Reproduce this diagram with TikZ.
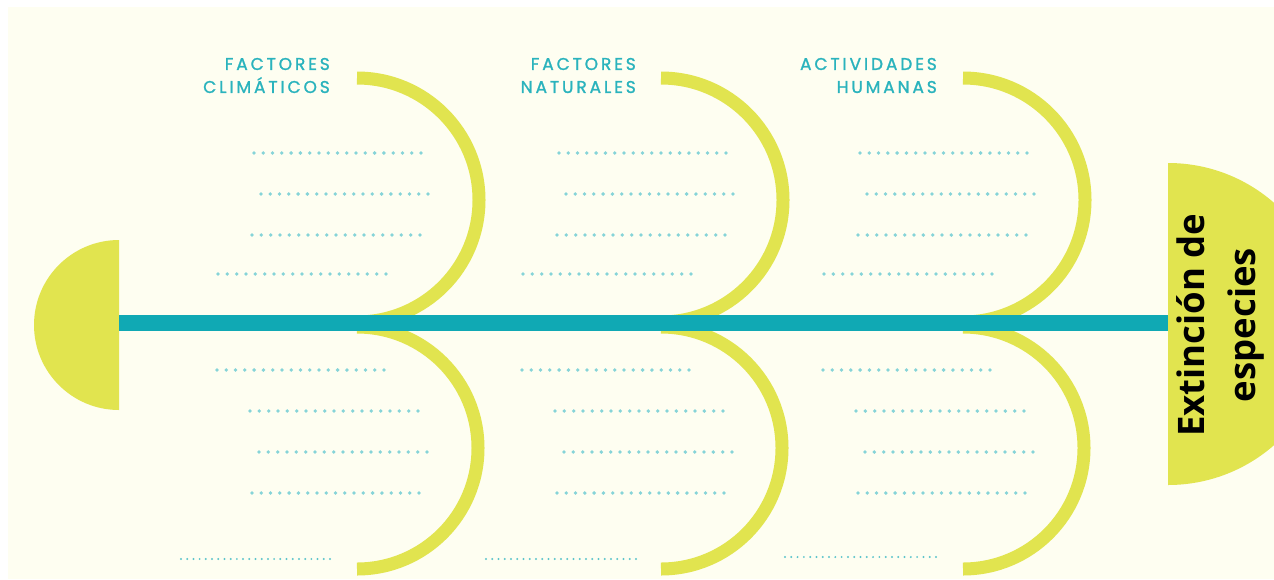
\documentclass[tikz,border=0pt]{standalone}
\usepackage{fontspec}
\newfontfamily\labelfont[LetterSpace=17,FakeBold=1.3]{Poppins}
\newfontfamily\titlefont{Open Sans}
\definecolor{cream}{HTML}{FEFEF1}
\definecolor{lime}{HTML}{E1E44F}
\definecolor{spine}{HTML}{10A9B4}
\definecolor{dotc}{HTML}{86D4D8}
\definecolor{smalldotc}{HTML}{5CC4CB}
\definecolor{lblc}{HTML}{2AB3BD}
\tikzset{
  bone/.style={draw=lime, line width=13pt},
  spineline/.style={draw=spine, line width=16pt},
  lbl/.style={align=right, text=lblc, inner sep=0pt, anchor=east,
    font=\labelfont\fontsize{17}{23}\selectfont},
  titlestyle/.style={rotate=90, align=center, inner sep=0pt,
    font=\titlefont\bfseries\fontsize{36.5}{51}\selectfont},
  dotfill/.style={fill=dotc},
  smalldot/.style={fill=smalldotc}
}
\begin{document}
\begin{tikzpicture}[x=1pt,y=-1pt]
\useasboundingbox (0,0) rectangle (1274,579);
\clip (0,0) rectangle (1274,579);
\fill[white] (0,0) rectangle (1274,579);
\fill[cream] (8,7) rectangle (1274,579);
% bones (arcs)
\foreach \gx in {357,661,963}{
  \draw[bone] (\gx,78) arc[start angle=-90,end angle=90,radius=122];
  \draw[bone] (\gx,327) arc[start angle=-90,end angle=90,radius=121];
}
% tail and head
\fill[lime] (119,240) arc[start angle=-90,end angle=-270,radius=85] -- cycle;
\fill[lime] (1168,163) arc[start angle=-90,end angle=90,radius=161] -- cycle;
% spine
\coordinate (tail) at (119,323);
\coordinate (head) at (1168,323);
\draw[spineline] (tail) -- (head);
% title
\node[titlestyle] (title) at (1220,325) {Extinción de\\especies};
% labels
\node[lbl] (lab1) at (330,75.5) {FACTORES\\CLIMÁTICOS};
\node[lbl] (lab2) at (636,75.5) {FACTORES\\NATURALES};
\node[lbl] (lab3) at (937,75.5) {ACTIVIDADES\\HUMANAS};
% dotted rows
\foreach \gx in {0,305,606}{
  \foreach \xa/\xb/\yy in {254/421/153,261/428/194,252/420/235,218/386/274,
                           217/384/370,250/418/411,259/427/452,252/419/493}{
    \foreach \i in {0,...,18}
      \fill[dotfill] ({\gx+\xa+\i*(\xb-\xa)/18},\yy) circle[radius=1.9];
  }
}
\foreach \xa/\xb/\yy in {181/330/559,486/636/559,785/936/557}{
  \foreach \i in {0,...,24}
    \fill[smalldot] ({\xa+\i*(\xb-\xa)/24},\yy) circle[radius=1.1];
}
\end{tikzpicture}
\end{document}
